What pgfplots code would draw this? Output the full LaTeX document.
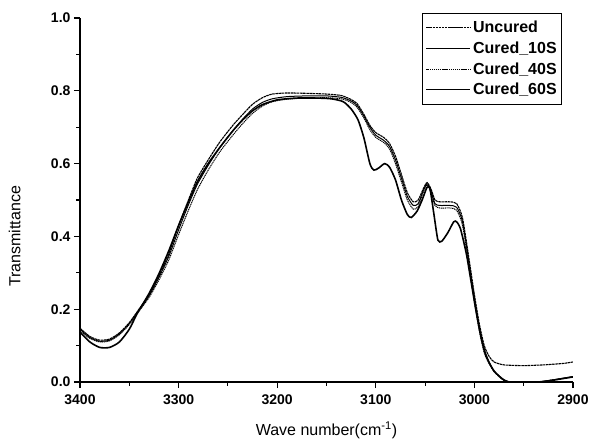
\documentclass[border=0pt]{standalone}
\usepackage{pgfplots}
\pgfplotsset{compat=1.18}
\usepackage{fontspec}
\setmainfont{Liberation Sans}
\begin{document}
\begin{tikzpicture}
\begin{axis}[
  scale only axis, width=493pt, height=364pt,
  axis lines=left, axis line style={line width=1.2pt,-},
  x dir=reverse, xmin=2900, xmax=3400, ymin=0, ymax=1,
  xtick={2900,3000,...,3400}, ytick={0,0.2,...,1},
  minor x tick num=1, minor y tick num=1,
  tick align=outside, major tick length=6pt, minor tick length=3.5pt,
  every tick/.style={line width=1.1pt,black},
  /pgf/number format/assume math mode=true,
  xticklabel style={font=\fontsize{14}{14}\selectfont\bfseries, /pgf/number format/1000 sep={}, yshift=-3pt},
  yticklabel style={font=\fontsize{14}{14}\selectfont\bfseries, /pgf/number format/fixed, /pgf/number format/fixed zerofill, /pgf/number format/precision=1},
  xlabel={Wave number(cm\textsuperscript{-1})},
  ylabel={Transmittance},
  label style={font=\fontsize{16}{16}\selectfont},
  xlabel style={at={(axis description cs:0.5,0)}, anchor=north, yshift=-36pt},
  ylabel style={at={(axis description cs:0,0.4)}, anchor=south, yshift=56pt},
  legend style={at={(0.978,1.014)}, anchor=north east, draw=black, line width=0.9pt,
     font=\fontsize{16}{16}\selectfont\bfseries, row sep=3.5pt, inner xsep=3pt, inner ysep=6pt},
  legend cell align=left,
  legend image code/.code={\draw[#1] (0pt,0pt) -- (44pt,0pt);},
]
\addplot[black, line width=1.1pt, dash pattern=on 2.5pt off 0.6pt, smooth, tension=0.4] coordinates {
(3400,0.148)(3390,0.125)(3380,0.115)(3370,0.118)(3360,0.135)(3350,0.163)(3342,0.193)
(3330,0.24)(3320,0.292)(3310,0.352)(3300,0.43)(3290,0.50)(3281,0.56)(3270,0.61)
(3258,0.66)(3245,0.705)(3235,0.735)(3225,0.763)(3215,0.781)(3205,0.791)(3190,0.794)
(3170,0.793)(3150,0.791)(3135,0.787)(3125,0.776)(3119,0.765)(3112,0.735)(3106,0.705)
(3100,0.685)(3092,0.672)(3086,0.655)(3080,0.62)(3074,0.57)(3068,0.52)(3062,0.495)
(3057,0.50)(3052,0.53)(3048,0.548)(3044,0.53)(3040,0.50)(3035,0.495)(3025,0.495)
(3018,0.49)(3012,0.45)(3005,0.33)(3000,0.24)(2995,0.16)(2990,0.10)(2985,0.07)
(2980,0.055)(2970,0.047)(2950,0.045)(2930,0.047)(2910,0.051)(2900,0.055)};
\addlegendentry{Uncured}
\addplot[black, line width=1pt, smooth, tension=0.4] coordinates {
(3400,0.145)(3390,0.122)(3380,0.112)(3370,0.115)(3360,0.132)(3350,0.161)(3342,0.191)
(3330,0.237)(3320,0.287)(3310,0.345)(3300,0.418)(3290,0.487)(3281,0.543)(3270,0.595)
(3258,0.645)(3245,0.69)(3235,0.722)(3225,0.75)(3215,0.768)(3205,0.778)(3190,0.784)
(3170,0.786)(3150,0.786)(3135,0.782)(3125,0.772)(3119,0.76)(3112,0.73)(3106,0.70)
(3100,0.678)(3092,0.664)(3086,0.647)(3080,0.61)(3074,0.56)(3068,0.51)(3062,0.485)
(3057,0.49)(3052,0.525)(3048,0.545)(3044,0.525)(3040,0.49)(3035,0.485)(3025,0.485)
(3018,0.48)(3012,0.44)(3005,0.32)(3000,0.23)(2995,0.15)(2990,0.09)(2985,0.055)
(2980,0.03)(2972,0.01)(2965,0.0)(2950,-0.003)(2935,0.0)(2920,0.006)(2900,0.015)};
\addlegendentry{Cured\_10S}
\addplot[black, line width=1pt, dash pattern=on 1.2pt off 0.7pt, smooth, tension=0.4] coordinates {
(3400,0.14)(3390,0.12)(3380,0.11)(3370,0.113)(3360,0.13)(3350,0.158)(3342,0.188)
(3330,0.232)(3320,0.28)(3310,0.335)(3300,0.405)(3290,0.472)(3281,0.528)(3270,0.582)
(3258,0.633)(3245,0.678)(3235,0.71)(3225,0.738)(3215,0.758)(3205,0.77)(3190,0.777)
(3170,0.78)(3150,0.781)(3135,0.778)(3125,0.768)(3119,0.755)(3112,0.725)(3106,0.693)
(3100,0.672)(3092,0.658)(3086,0.64)(3080,0.6)(3074,0.55)(3068,0.50)(3062,0.475)
(3057,0.482)(3052,0.52)(3048,0.542)(3044,0.52)(3040,0.485)(3035,0.478)(3025,0.478)
(3018,0.472)(3012,0.43)(3005,0.31)(3000,0.22)(2995,0.14)(2990,0.08)(2985,0.05)
(2980,0.028)(2972,0.008)(2965,0.0)(2950,-0.003)(2935,0.0)(2920,0.006)(2900,0.014)};
\addlegendentry{Cured\_40S}
\addplot[black, line width=1.6pt, smooth, tension=0.4] coordinates {
(3400,0.137)(3390,0.11)(3380,0.095)(3370,0.095)(3360,0.11)(3350,0.145)(3342,0.188)
(3330,0.243)(3320,0.297)(3310,0.36)(3300,0.43)(3290,0.495)(3281,0.55)(3270,0.60)
(3258,0.645)(3245,0.69)(3235,0.72)(3225,0.745)(3215,0.762)(3200,0.775)(3180,0.78)
(3160,0.78)(3145,0.778)(3133,0.77)(3125,0.75)(3118,0.72)(3112,0.67)(3106,0.60)
(3102,0.582)(3097,0.588)(3091,0.60)(3086,0.59)(3080,0.555)(3074,0.50)(3068,0.46)
(3064,0.452)(3058,0.47)(3053,0.50)(3048,0.535)(3045,0.53)(3041,0.46)(3037,0.39)
(3033,0.387)(3027,0.41)(3021,0.44)(3018,0.44)(3014,0.42)(3008,0.35)(3003,0.27)
(2998,0.19)(2993,0.12)(2988,0.07)(2980,0.03)(2970,0.005)(2965,0.0)(2950,-0.003)
(2935,0.0)(2920,0.005)(2900,0.014)};
\addlegendentry{Cured\_60S}
\end{axis}
\pgfresetboundingbox
\path ([shift={(-80pt,-62pt)}]current axis.south west) rectangle ([shift={(16pt,18pt)}]current axis.north east);
\end{tikzpicture}
\end{document}
